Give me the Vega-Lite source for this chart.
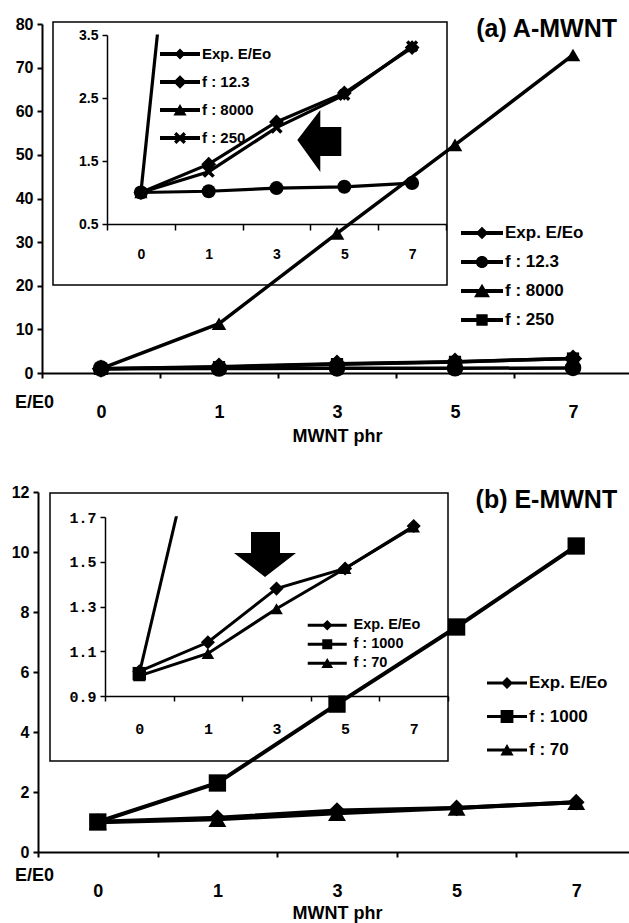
{
  "$schema": "https://vega.github.io/schema/vega-lite/v6.json",
  "width": 629,
  "height": 923,
  "autosize": {"type": "none"},
  "padding": 0,
  "background": "white",
  "config": {
    "font": "Liberation Sans",
    "view": {"stroke": null},
    "axis": {"labelColor": "black", "titleColor": "black", "domainColor": "black", "tickColor": "black", "labelFont": "Liberation Sans", "labelFontWeight": "bold", "titleFont": "Liberation Sans", "titleFontWeight": "bold", "grid": false, "labelAngle": 0},
    "legend": {"labelColor": "black", "labelFont": "Liberation Sans", "labelFontWeight": "bold", "padding": 0, "symbolStrokeWidth": 0, "symbolFillColor": "black", "symbolOpacity": 1, "labelOffset": 2, "labelLimit": 400, "direction": "vertical", "orient": "none"}
  },
  "datasets": {
    "a": [
      {"phr": "0", "series": "Exp.  E/Eo", "value": 1.0},
      {"phr": "1", "series": "Exp.  E/Eo", "value": 1.45},
      {"phr": "3", "series": "Exp.  E/Eo", "value": 2.12},
      {"phr": "5", "series": "Exp.  E/Eo", "value": 2.58},
      {"phr": "7", "series": "Exp.  E/Eo", "value": 3.3},
      {"phr": "0", "series": "f : 12.3", "value": 1.0},
      {"phr": "1", "series": "f : 12.3", "value": 1.02},
      {"phr": "3", "series": "f : 12.3", "value": 1.07},
      {"phr": "5", "series": "f : 12.3", "value": 1.09},
      {"phr": "7", "series": "f : 12.3", "value": 1.15},
      {"phr": "0", "series": "f : 8000", "value": 1.0},
      {"phr": "1", "series": "f : 8000", "value": 11.3},
      {"phr": "3", "series": "f : 8000", "value": 32.0},
      {"phr": "5", "series": "f : 8000", "value": 52.3},
      {"phr": "7", "series": "f : 8000", "value": 72.9},
      {"phr": "0", "series": "f : 250", "value": 1.0},
      {"phr": "1", "series": "f : 250", "value": 1.33},
      {"phr": "3", "series": "f : 250", "value": 2.03},
      {"phr": "5", "series": "f : 250", "value": 2.55},
      {"phr": "7", "series": "f : 250", "value": 3.32}
    ],
    "b": [
      {"phr": "0", "series": "Exp.  E/Eo", "value": 1.01},
      {"phr": "1", "series": "Exp.  E/Eo", "value": 1.14},
      {"phr": "3", "series": "Exp.  E/Eo", "value": 1.38},
      {"phr": "5", "series": "Exp.  E/Eo", "value": 1.47},
      {"phr": "7", "series": "Exp.  E/Eo", "value": 1.66},
      {"phr": "0", "series": "f : 1000", "value": 1.0},
      {"phr": "1", "series": "f : 1000", "value": 2.3},
      {"phr": "3", "series": "f : 1000", "value": 4.93},
      {"phr": "5", "series": "f : 1000", "value": 7.5},
      {"phr": "7", "series": "f : 1000", "value": 10.2},
      {"phr": "0", "series": "f : 70", "value": 0.99},
      {"phr": "1", "series": "f : 70", "value": 1.09},
      {"phr": "3", "series": "f : 70", "value": 1.29},
      {"phr": "5", "series": "f : 70", "value": 1.47},
      {"phr": "7", "series": "f : 70", "value": 1.655}
    ]
  },
  "resolve": {"scale": {"x": "independent", "y": "independent", "shape": "independent", "size": "independent"}},
  "layer": [
    {
      "data": {"name": "a"},
      "encoding": {
        "x": {"field": "phr", "type": "nominal", "scale": {"type": "band", "domain": ["0", "1", "3", "5", "7"], "range": [42, 632], "paddingInner": 0, "paddingOuter": 0},
          "axis": {"orient": "bottom", "offset": -550, "title": "MWNT phr", "titleFontSize": 18, "titleY": 63, "titleBaseline": "middle", "labelFontSize": 18, "labelPadding": 25, "tickBand": "extent", "tickSize": 5, "tickWidth": 2, "domainWidth": 2}},
        "y": {"field": "value", "type": "quantitative", "scale": {"domain": [0, 80], "range": [373, 24], "nice": false, "zero": false},
          "axis": {"orient": "left", "offset": -42, "values": [0, 10, 20, 30, 40, 50, 60, 70, 80], "title": "E/E0", "titleAngle": 0, "titleX": -8, "titleY": 402, "titleAlign": "center", "titleBaseline": "middle", "titleFontSize": 18, "labelFontSize": 16, "labelPadding": 4, "tickSize": 5, "tickWidth": 2, "domainWidth": 2}}
      },
      "layer": [
        {"mark": {"type": "line", "color": "black", "strokeWidth": 3.5}, "encoding": {"detail": {"field": "series"}}},
        {"mark": {"type": "point", "filled": true, "color": "black", "opacity": 1},
          "encoding": {
            "shape": {"field": "series", "type": "nominal", "scale": {"domain": ["Exp.  E/Eo", "f : 12.3", "f : 8000", "f : 250"], "range": ["diamond", "circle", "triangle-up", "square"]}, "legend": null},
            "size": {"field": "series", "type": "ordinal", "scale": {"domain": ["Exp.  E/Eo", "f : 12.3", "f : 8000", "f : 250"], "range": [340, 150, 300, 160]}, "legend": null}
          }},
        {"transform": [{"filter": "datum.phr == '7' && datum.series == 'Exp.  E/Eo'"}],
          "mark": {"type": "text", "fontSize": 25, "fontWeight": "bold", "align": "right", "baseline": "middle", "dx": 44, "color": "black"},
          "encoding": {"y": {"datum": 78.85}, "text": {"value": "(a) A-MWNT"}}}
      ]
    },
    {
      "data": {"name": "b"},
      "encoding": {
        "x": {"field": "phr", "type": "nominal", "scale": {"type": "band", "domain": ["0", "1", "3", "5", "7"], "range": [38, 636], "paddingInner": 0, "paddingOuter": 0},
          "axis": {"orient": "bottom", "offset": -71, "title": "MWNT phr", "titleFontSize": 18, "titleY": 61, "titleBaseline": "middle", "labelFontSize": 18, "labelPadding": 25, "tickBand": "extent", "tickSize": 5, "tickWidth": 2, "domainWidth": 2}},
        "y": {"field": "value", "type": "quantitative", "scale": {"domain": [0, 12], "range": [852, 492], "nice": false, "zero": false},
          "axis": {"orient": "left", "offset": -38, "values": [0, 2, 4, 6, 8, 10, 12], "title": "E/E0", "titleAngle": 0, "titleX": -4, "titleY": 875, "titleAlign": "center", "titleBaseline": "middle", "titleFontSize": 18, "labelFontSize": 16, "labelPadding": 4, "tickSize": 5, "tickWidth": 2, "domainWidth": 2}}
      },
      "layer": [
        {"mark": {"type": "line", "color": "black", "strokeWidth": 4}, "encoding": {"detail": {"field": "series"}}},
        {"mark": {"type": "point", "filled": true, "color": "black", "opacity": 1},
          "encoding": {
            "shape": {"field": "series", "type": "nominal", "scale": {"domain": ["Exp.  E/Eo", "f : 1000", "f : 70"], "range": ["diamond", "square", "triangle-up"]}, "legend": null},
            "size": {"field": "series", "type": "ordinal", "scale": {"domain": ["Exp.  E/Eo", "f : 1000", "f : 70"], "range": [280, 320, 290]}, "legend": null}
          }},
        {"transform": [{"filter": "datum.phr == '7' && datum.series == 'Exp.  E/Eo'"}],
          "mark": {"type": "text", "fontSize": 25, "fontWeight": "bold", "align": "right", "baseline": "middle", "dx": 41, "color": "black"},
          "encoding": {"y": {"datum": 11.73}, "text": {"value": "(b) E-MWNT"}}}
      ]
    },
    {
      "data": {"name": "a"},
      "transform": [{"filter": "datum.series != 'f : 8000' || datum.phr == '0' || datum.phr == '1'"}],
      "encoding": {
        "x": {"field": "phr", "type": "nominal", "scale": {"type": "band", "domain": ["0", "1", "3", "5", "7"], "range": [107, 446], "paddingInner": 0, "paddingOuter": 0},
          "axis": {"orient": "bottom", "offset": -699, "title": null, "labelFontSize": 14, "labelPadding": 17, "tickBand": "extent", "tickSize": 6, "tickWidth": 1.5, "domainWidth": 1.5}},
        "y": {"field": "value", "type": "quantitative", "scale": {"domain": [0.5, 3.5], "range": [224, 35], "nice": false, "zero": false},
          "axis": {"orient": "left", "offset": -107, "values": [0.5, 1.5, 2.5, 3.5], "format": ".1f", "title": null, "labelFontSize": 14, "labelPadding": 4, "tickSize": 5, "tickWidth": 1.5, "domainWidth": 1.5}}
      },
      "layer": [
        {"mark": {"type": "line", "color": "black", "strokeWidth": 3.2}, "encoding": {"detail": {"field": "series"}}},
        {"transform": [{"filter": "datum.value <= 3.5"}],
          "mark": {"type": "point", "filled": true, "color": "black", "opacity": 1},
          "encoding": {
            "shape": {"field": "series", "type": "nominal", "scale": {"domain": ["Exp.  E/Eo", "f : 12.3", "f : 8000", "f : 250"], "range": ["diamond", "circle", "triangle-up", "M-1,-0.6 L-0.6,-1 L0,-0.4 L0.6,-1 L1,-0.6 L0.4,0 L1,0.6 L0.6,1 L0,0.4 L-0.6,1 L-1,0.6 L-0.4,0 Z"]}, "legend": null},
            "size": {"field": "series", "type": "ordinal", "scale": {"domain": ["Exp.  E/Eo", "f : 12.3", "f : 8000", "f : 250"], "range": [220, 150, 210, 150]}, "legend": null}
          }},
        {"transform": [{"filter": "datum.phr == '5' && datum.series == 'Exp.  E/Eo'"}],
          "mark": {"type": "point", "filled": true, "color": "black", "opacity": 1, "strokeWidth": 0, "size": 1600, "shape": "M-2.35,0.05 L-1.2,-1.45 L-1.2,-0.6 L-0.15,-0.6 L-0.15,0.85 L-1.2,0.85 L-1.2,1.65 Z"},
          "encoding": {"y": {"datum": 1.85}}},
        {"transform": [{"filter": "datum.phr == '0' && datum.series == 'Exp.  E/Eo'"}],
          "mark": {"type": "point", "filled": true, "color": "white", "opacity": 1, "strokeWidth": 0, "size": 400, "shape": "M1.05,-0.05 L2.25,-0.05 L2.67,-4 L1.47,-4 Z"},
          "encoding": {"y": {"datum": 3.5}}}
      ]
    },
    {
      "data": {"name": "b"},
      "transform": [{"filter": "datum.series != 'f : 1000' || datum.phr == '0' || datum.phr == '1'"}],
      "encoding": {
        "x": {"field": "phr", "type": "nominal", "scale": {"type": "band", "domain": ["0", "1", "3", "5", "7"], "range": [105, 448], "paddingInner": 0, "paddingOuter": 0},
          "axis": {"orient": "bottom", "offset": -227, "title": null, "labelFont": "Liberation Mono", "labelFontSize": 15, "labelPadding": 20, "tickBand": "extent", "tickSize": 5, "tickWidth": 1.5, "domainWidth": 1.5}},
        "y": {"field": "value", "type": "quantitative", "scale": {"domain": [0.9, 1.7], "range": [696, 517], "nice": false, "zero": false},
          "axis": {"orient": "left", "offset": -105, "values": [0.9, 1.1, 1.3, 1.5, 1.7], "format": ".1f", "title": null, "labelFont": "Liberation Mono", "labelFontSize": 15, "labelPadding": 4, "tickSize": 5, "tickWidth": 1.5, "domainWidth": 1.5}}
      },
      "layer": [
        {"mark": {"type": "line", "color": "black", "strokeWidth": 3}, "encoding": {"detail": {"field": "series"}}},
        {"transform": [{"filter": "datum.value <= 1.7"}],
          "mark": {"type": "point", "filled": true, "color": "black", "opacity": 1},
          "encoding": {
            "shape": {"field": "series", "type": "nominal", "scale": {"domain": ["Exp.  E/Eo", "f : 1000", "f : 70"], "range": ["diamond", "square", "triangle-up"]}, "legend": null},
            "size": {"field": "series", "type": "ordinal", "scale": {"domain": ["Exp.  E/Eo", "f : 1000", "f : 70"], "range": [200, 160, 200]}, "legend": null}
          }},
        {"transform": [{"filter": "datum.phr == '3' && datum.series == 'Exp.  E/Eo'"}],
          "mark": {"type": "point", "filled": true, "color": "black", "opacity": 1, "strokeWidth": 0, "size": 1600, "shape": "M-1.275,-1.49 L0.175,-1.49 L0.175,-0.44 L0.975,-0.44 L-0.575,0.76 L-2.125,-0.44 L-1.275,-0.44 Z"},
          "encoding": {"y": {"datum": 1.5}}},
        {"transform": [{"filter": "datum.phr == '1' && datum.series == 'Exp.  E/Eo'"}],
          "mark": {"type": "point", "filled": true, "color": "white", "opacity": 1, "strokeWidth": 0, "size": 400, "shape": "M-0.61,-0.4 L0.79,-0.4 L-2.45,13.35 L-3.85,13.35 Z"},
          "encoding": {"y": {"datum": 2.3}}}
      ]
    },
    {
      "data": {"values": [{}]},
      "mark": {"type": "rect", "fill": "white", "fillOpacity": 0, "stroke": "black", "strokeWidth": 1.5},
      "encoding": {
        "x": {"datum": 0, "type": "quantitative", "scale": {"domain": [0, 1], "range": [53, 447], "nice": false, "zero": false}, "axis": null},
        "x2": {"datum": 1},
        "y": {"datum": 0, "type": "quantitative", "scale": {"domain": [0, 1], "range": [285, 22], "nice": false, "zero": false}, "axis": null},
        "y2": {"datum": 1}
      }
    },
    {
      "data": {"values": [{}]},
      "mark": {"type": "rect", "fill": "white", "fillOpacity": 0, "stroke": "black", "strokeWidth": 1.5},
      "encoding": {
        "x": {"datum": 0, "type": "quantitative", "scale": {"domain": [0, 1], "range": [50, 448], "nice": false, "zero": false}, "axis": null},
        "x2": {"datum": 1},
        "y": {"datum": 0, "type": "quantitative", "scale": {"domain": [0, 1], "range": [761, 493], "nice": false, "zero": false}, "axis": null},
        "y2": {"datum": 1}
      }
    },
    {
      "data": {"name": "a"},
      "mark": {"type": "point", "filled": true, "color": "black", "opacity": 0},
      "encoding": {
        "shape": {"field": "series", "type": "nominal",
          "scale": {"domain": ["Exp.  E/Eo", "f : 12.3", "f : 8000", "f : 250"],
            "range": [
              "M-1,-0.095 L1,-0.095 L1,0.095 L-1,0.095 Z M-0.3,0 L0,-0.3 L0.3,0 L0,0.3 Z",
              "M-1,-0.095 L1,-0.095 L1,0.095 L-1,0.095 Z M-0.29,0 A0.29,0.29 0 1,1 0.29,0 A0.29,0.29 0 1,1 -0.29,0 Z",
              "M-1,-0.095 L1,-0.095 L1,0.095 L-1,0.095 Z M-0.38,0.3 L0,-0.34 L0.38,0.3 Z",
              "M-1,-0.095 L1,-0.095 L1,0.095 L-1,0.095 Z M-0.27,-0.27 L0.27,-0.27 L0.27,0.27 L-0.27,0.27 Z"
            ]},
          "legend": {"orient": "none", "legendX": 461, "legendY": 212, "title": null, "symbolSize": 1764, "labelFontSize": 17, "rowPadding": -1.7}}
      }
    },
    {
      "data": {"name": "a"},
      "mark": {"type": "point", "filled": true, "color": "black", "opacity": 0},
      "encoding": {
        "shape": {"field": "series", "type": "nominal",
          "scale": {"domain": ["Exp.  E/Eo", "f : 12.3", "f : 8000", "f : 250"],
            "range": [
              "M-1,-0.1 L1,-0.1 L1,0.1 L-1,0.1 Z M-0.27,0 L0,-0.27 L0.27,0 L0,0.27 Z",
              "M-1,-0.1 L1,-0.1 L1,0.1 L-1,0.1 Z M-0.34,0 L0,-0.34 L0.34,0 L0,0.34 Z",
              "M-1,-0.1 L1,-0.1 L1,0.1 L-1,0.1 Z M-0.33,0.27 L0,-0.3 L0.33,0.27 Z",
              "M-1,-0.1 L1,-0.1 L1,0.1 L-1,0.1 Z M-0.3,-0.18 L-0.18,-0.3 L0,-0.12 L0.18,-0.3 L0.3,-0.18 L0.12,0 L0.3,0.18 L0.18,0.3 L0,0.12 L-0.18,0.3 L-0.3,0.18 L-0.12,0 Z"
            ]},
          "legend": {"orient": "none", "legendX": 160, "legendY": 34, "title": null, "symbolSize": 1600, "labelFontSize": 15, "rowPadding": -6.7}}
      }
    },
    {
      "data": {"name": "b"},
      "mark": {"type": "point", "filled": true, "color": "black", "opacity": 0},
      "encoding": {
        "shape": {"field": "series", "type": "nominal",
          "scale": {"domain": ["Exp.  E/Eo", "f : 1000", "f : 70"],
            "range": [
              "M-1,-0.075 L1,-0.075 L1,0.075 L-1,0.075 Z M-0.3,0 L0,-0.3 L0.3,0 L0,0.3 Z",
              "M-1,-0.075 L1,-0.075 L1,0.075 L-1,0.075 Z M-0.32,-0.32 L0.32,-0.32 L0.32,0.32 L-0.32,0.32 Z",
              "M-1,-0.075 L1,-0.075 L1,0.075 L-1,0.075 Z M-0.33,0.27 L0,-0.3 L0.33,0.27 Z"
            ]},
          "legend": {"orient": "none", "legendX": 487, "legendY": 663, "title": null, "symbolSize": 1600, "labelFontSize": 17, "rowPadding": 5.5}}
      }
    },
    {
      "data": {"name": "b"},
      "mark": {"type": "point", "filled": true, "color": "black", "opacity": 0},
      "encoding": {
        "shape": {"field": "series", "type": "nominal",
          "scale": {"domain": ["Exp.  E/Eo", "f : 1000", "f : 70"],
            "range": [
              "M-2.786,-0.214 L2.786,-0.214 L2.786,0.214 L-2.786,0.214 Z M-0.757,0 L0,-0.757 L0.757,0 L0,0.757 Z",
              "M-2.786,-0.214 L2.786,-0.214 L2.786,0.214 L-2.786,0.214 Z M-0.714,-0.714 L0.714,-0.714 L0.714,0.714 L-0.714,0.714 Z",
              "M-2.786,-0.214 L2.786,-0.214 L2.786,0.214 L-2.786,0.214 Z M-0.836,0.671 L0,-0.757 L0.836,0.671 Z"
            ]},
          "legend": {"orient": "none", "legendX": 308, "legendY": 618, "title": null, "symbolSize": 196, "symbolOffset": 12, "labelOffset": 19, "labelFontSize": 14.5, "rowPadding": 4}}
      }
    }
  ]
}
